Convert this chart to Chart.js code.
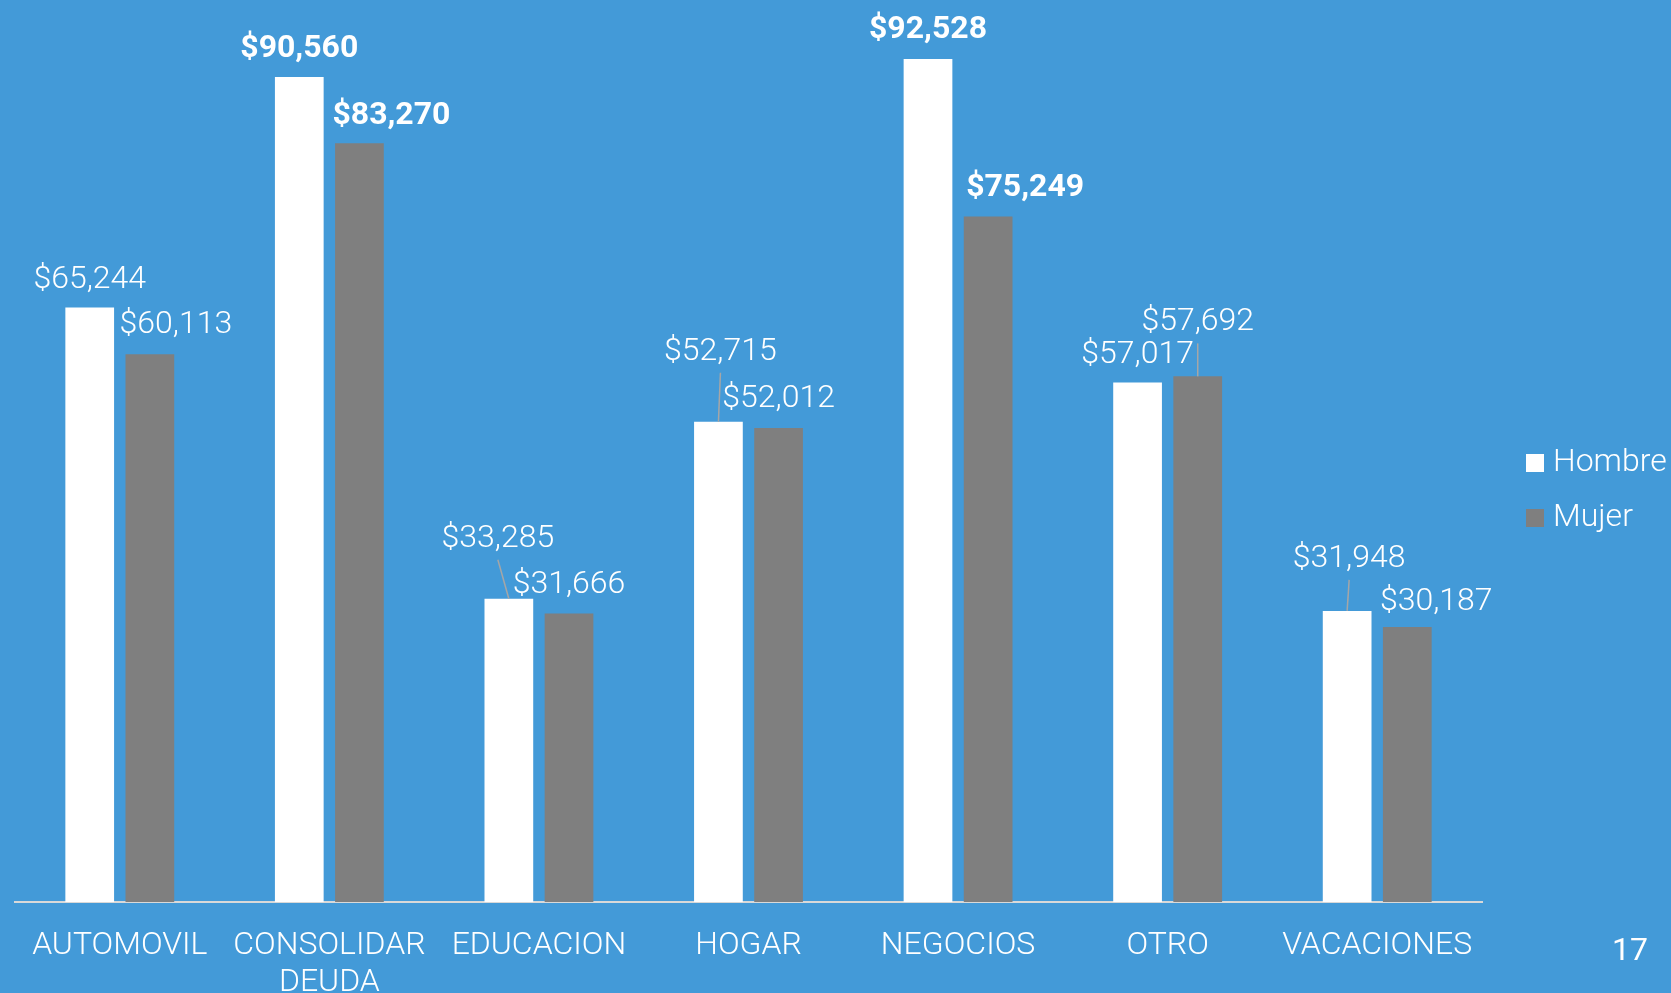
<!DOCTYPE html>
<html>
<head>
<meta charset="utf-8">
<script src="https://cdn.jsdelivr.net/npm/chart.js@4/dist/chart.umd.min.js"></script>
<style>
  html, body { margin: 0; padding: 0; background: #439ad8; overflow: hidden; }
  #wrap { position: relative; width: 1671px; height: 993px; }
</style>
</head>
<body>
<div id="wrap"><canvas id="chart"></canvas></div>
<script>
/* ── Data ───────────────────────────── */
const categories = ['AUTOMOVIL', ['CONSOLIDAR', 'DEUDA'], 'EDUCACION', 'HOGAR', 'NEGOCIOS', 'OTRO', 'VACACIONES'];
const hombre = [65244, 90560, 33285, 52715, 92528, 57017, 31948];
const mujer  = [60113, 83270, 31666, 52012, 75249, 57692, 30187];
const seriesNames = ['Hombre', 'Mujer'];
const pageNumber = '17';

// label nudges per bar: [dx, distance of label centre above bar top]
const labelNudge = [
  [[0, 28], [0, 28], [-11, 60], [2, 70], [0, 29], [0, 28], [2, 52]],
  [[26, 29], [32, 27], [0, 28], [0, 29], [37, 28], [0, 54], [29, 25]]
];

const white = '#ffffff';
const grey  = '#7f7f7f';
const fontFamily = 'Roboto, "Open Sans", sans-serif';
const money = v => '$' + v.toLocaleString('en-US');

const overlay = {
  id: 'overlay',
  afterDatasetsDraw(chart) {
    const ctx = chart.ctx;
    ctx.save();
    ctx.textAlign = 'center';
    ctx.textBaseline = 'middle';
    chart.data.datasets.forEach((ds, di) => {
      chart.getDatasetMeta(di).data.forEach((bar, i) => {
        const v = ds.data[i];
        const [dx, dy] = labelNudge[di][i];
        const lx = bar.x + dx;
        const ly = bar.y - dy;
        if (dy > 45) {
          ctx.strokeStyle = '#a6a6a6';
          ctx.lineWidth = 1.5;
          ctx.beginPath();
          ctx.moveTo(lx, ly + 21);
          ctx.lineTo(bar.x, bar.y);
          ctx.stroke();
        }
        ctx.fillStyle = white;
        ctx.font = (v >= 75000 ? 'bold ' : '300 ') + '32px ' + fontFamily;
        ctx.fillText(money(v), lx, ly);
      });
    });

    // legend
    ctx.textAlign = 'left';
    chart.data.datasets.forEach((ds, di) => {
      const y = 463 + di * 55;
      ctx.fillStyle = ds.backgroundColor;
      ctx.fillRect(1526, y - 9, 18, 18);
      ctx.fillStyle = white;
      ctx.font = '300 32px ' + fontFamily;
      ctx.fillText(ds.label, 1553, y);
    });

    // page number
    ctx.textAlign = 'center';
    ctx.font = '400 32px ' + fontFamily;
    ctx.fillText(pageNumber, 1630, 952);
    ctx.restore();
  }
};

new Chart(document.getElementById('chart'), {
  type: 'bar',
  data: {
    labels: categories,
    datasets: [
      { label: seriesNames[0], data: hombre, backgroundColor: white },
      { label: seriesNames[1], data: mujer,  backgroundColor: grey }
    ]
  },
  options: {
    responsive: true,
    maintainAspectRatio: false,
    animation: false,
    categoryPercentage: 0.574,
    barPercentage: 0.81,
    layout: { padding: { left: 15, right: 189, top: 0, bottom: 0 } },
    plugins: { legend: { display: false }, tooltip: { enabled: false } },
    scales: {
      y: { display: false, min: 0, max: 99000 },
      x: {
        grid: { display: false, drawTicks: false },
        border: { color: '#d9d9d9', width: 2 },
        ticks: {
          color: white,
          padding: 25,
          maxRotation: 0,
          autoSkip: false,
          font: { family: fontFamily, size: 32, weight: '300', lineHeight: 1.16 }
        },
        afterFit: s => { s.height = 91; }
      }
    }
  },
  plugins: [overlay]
});
</script>
</body>
</html>
